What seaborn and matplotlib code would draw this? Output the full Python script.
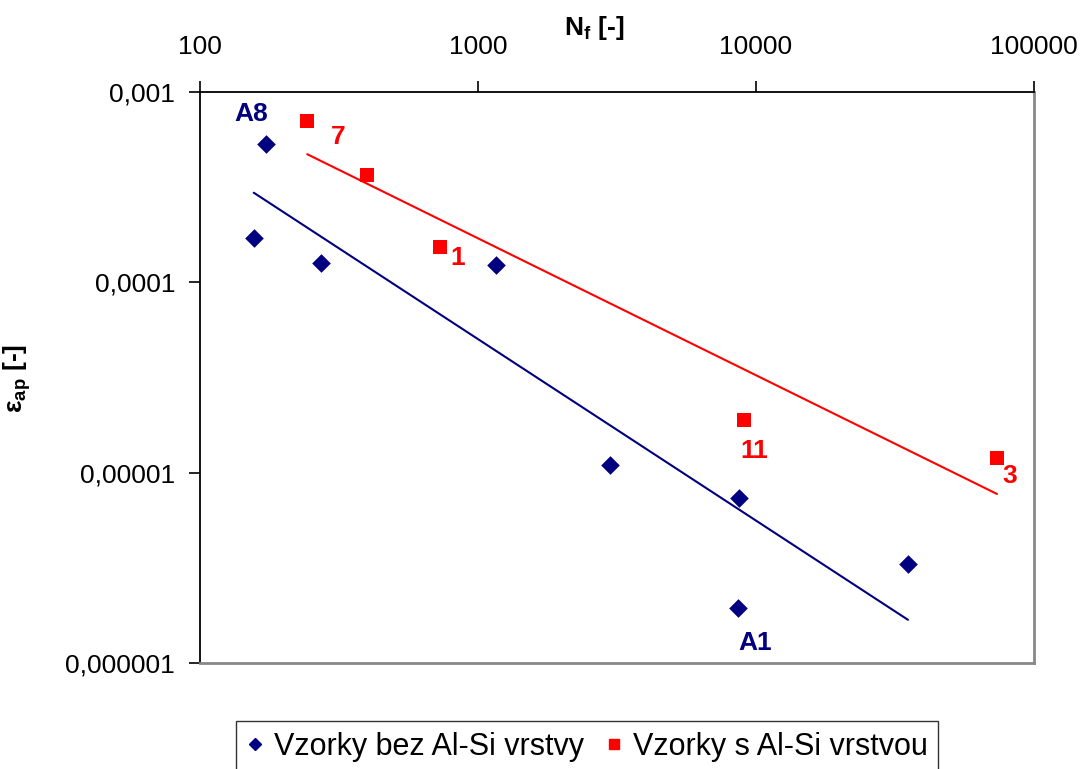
import numpy as np
import pandas as pd
import matplotlib
matplotlib.use("Agg")
import matplotlib.pyplot as plt
import seaborn as sns
from matplotlib.lines import Line2D

# ---- data ----
blue_nf = [156, 173, 272, 1160, 2990, 8690, 8610, 35200]
blue_eps = [1.7e-4, 5.3e-4, 1.27e-4, 1.24e-4, 1.1e-5, 7.4e-6, 1.95e-6, 3.3e-6]
red_nf = [243, 399, 730, 9060, 73600]
red_eps = [7.0e-4, 3.66e-4, 1.53e-4, 1.9e-5, 1.2e-5]
blue_name = "Vzorky bez Al-Si vrstvy"
red_name = "Vzorky s Al-Si vrstvou"
x_ticks = [100, 1000, 10000, 100000]
x_ticklabels = ["100", "1000", "10000", "100000"]
y_ticks = [1e-6, 1e-5, 1e-4, 1e-3]
y_ticklabels = ["0,000001", "0,00001", "0,0001", "0,001"]
blue_labels = {1: "A8", 6: "A1"}
red_labels = {0: "7", 2: "1", 3: "11", 4: "3"}

NAVY = "#000080"
RED = "#FF0000"

sns.set_theme(style="white")
plt.rcParams["font.family"] = ["Liberation Sans", "DejaVu Sans"]
plt.rcParams["mathtext.fontset"] = "custom"
plt.rcParams["mathtext.rm"] = "Liberation Sans"
plt.rcParams["mathtext.bf"] = "Liberation Sans:bold"
for key in ("text.color", "axes.labelcolor", "xtick.color", "ytick.color"):
    plt.rcParams[key] = "black"

fig = plt.figure(figsize=(10.92, 7.69), dpi=100)
ax = fig.add_axes([0.1832, 0.1378, 0.9469 - 0.1832, 0.8804 - 0.1378])

df_b = pd.DataFrame({"nf": blue_nf, "eps": blue_eps})
df_r = pd.DataFrame({"nf": red_nf, "eps": red_eps})

# power-law trendlines (fit in log space)
for df, col in ((df_b, NAVY), (df_r, RED)):
    k, q = np.polyfit(np.log10(df["nf"]), np.log10(df["eps"]), 1)
    xs = np.logspace(np.log10(df["nf"].min()), np.log10(df["nf"].max()), 100)
    ax.plot(xs, 10 ** (q + k * np.log10(xs)), color=col, lw=1.5, zorder=2)

sns.scatterplot(data=df_b, x="nf", y="eps", marker="D", s=90, color=NAVY,
                edgecolor=NAVY, linewidth=0, ax=ax, zorder=3)
sns.scatterplot(data=df_r, x="nf", y="eps", marker="s", s=100, color=RED,
                edgecolor=RED, linewidth=0, ax=ax, zorder=3)

ax.set_xscale("log")
ax.set_yscale("log")
ax.set_xlim(100, 100000)
ax.set_ylim(1e-6, 1e-3)
ax.xaxis.tick_top()
ax.xaxis.set_label_position("top")
ax.set_xticks(x_ticks)
ax.set_xticklabels(x_ticklabels)
ax.set_yticks(y_ticks)
ax.set_yticklabels(y_ticklabels)
ax.minorticks_off()
ax.tick_params(axis="both", which="major", labelsize=19, length=8, width=1.2,
               color="black", labelcolor="black", direction="out", left=True, top=True,
               bottom=False, right=False, pad=10)
ax.tick_params(axis="x", pad=16)

for side in ("left", "top"):
    ax.spines[side].set_color("black")
    ax.spines[side].set_linewidth(1.3)
for side in ("right", "bottom"):
    ax.spines[side].set_color("#888888")
    ax.spines[side].set_linewidth(2)

ax.set_xlabel(r"N$_\mathbf{f}$ [-]", fontsize=19, fontweight="bold", color="black")
ax.xaxis.set_label_coords(0.472, 1.10)
ax.set_ylabel(r"ε$_\mathbf{ap}$ [-]", fontsize=19, fontweight="bold", color="black")
ax.yaxis.set_label_coords(-0.200, 0.499)

blue_off = {1: (-15, 30), 6: (17, -35)}
red_off = {0: (31, -16), 2: (18, -11), 3: (10, -31), 4: (13, -18)}
for i, t in blue_labels.items():
    ax.annotate(t, (blue_nf[i], blue_eps[i]), xytext=blue_off[i], textcoords="offset pixels",
                ha="center", va="center", color=NAVY, fontsize=19, fontweight="bold")
for i, t in red_labels.items():
    ax.annotate(t, (red_nf[i], red_eps[i]), xytext=red_off[i], textcoords="offset pixels",
                ha="center", va="center", color=RED, fontsize=19, fontweight="bold")

handles = [Line2D([], [], ls="none", marker="D", color=NAVY, markersize=6, label=blue_name),
           Line2D([], [], ls="none", marker="s", color=RED, markersize=7, label=red_name)]
leg = fig.legend(handles=handles, loc="upper center", bbox_to_anchor=(0.5375, 0.0624),
                 ncol=2, fontsize=22, frameon=True, fancybox=False, edgecolor="black",
                 handletextpad=0.3, columnspacing=0.7, borderpad=0.35, handlelength=0.6,
                 borderaxespad=0, labelcolor="black")
leg.get_frame().set_linewidth(1.0)

fig.savefig("out.png", dpi=100, facecolor="white")
